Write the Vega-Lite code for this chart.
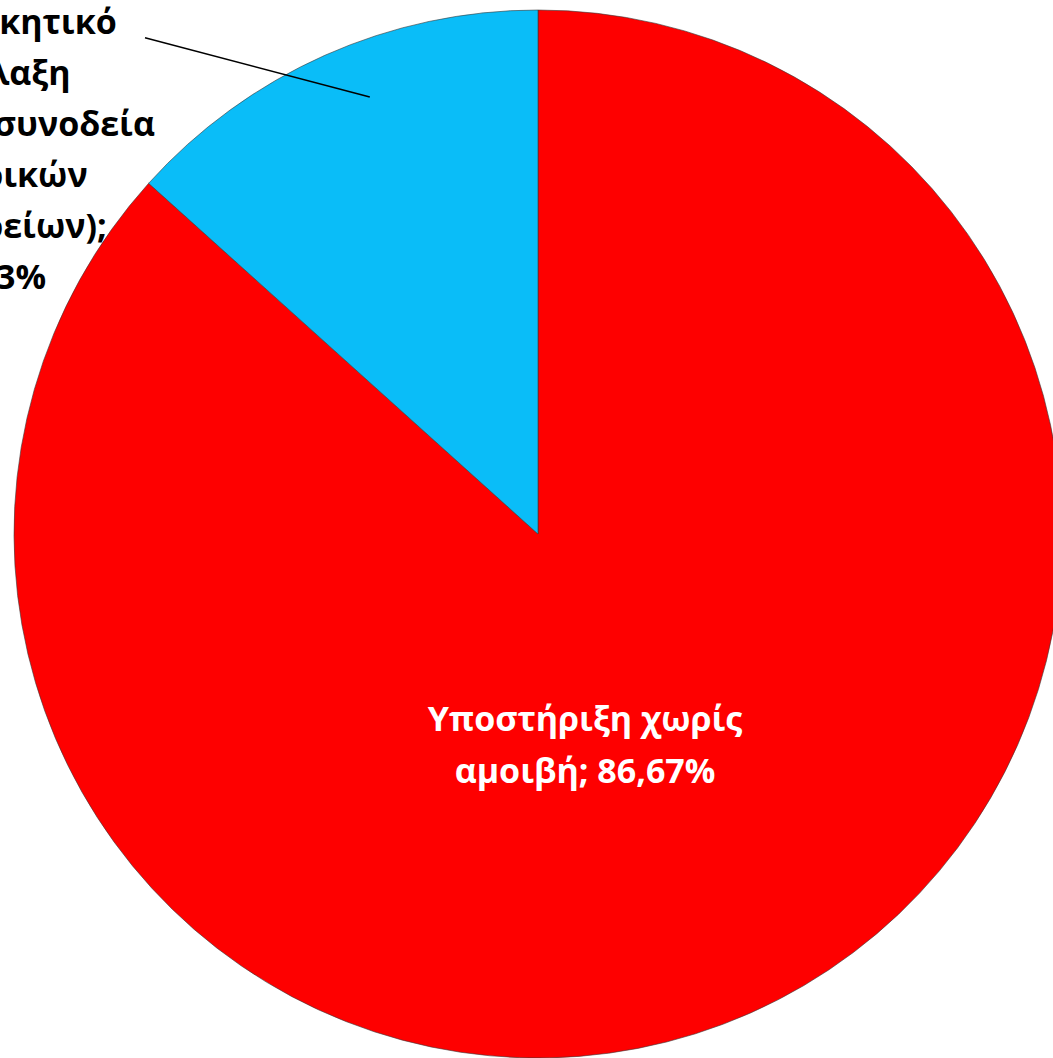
{
  "$schema": "https://vega.github.io/schema/vega-lite/v6.json",
  "width": 1076,
  "height": 1068,
  "autosize": {"type": "none"},
  "padding": 0,
  "background": "white",
  "config": {"view": {"stroke": null}},
  "datasets": {
    "slices": [
      {"cat": "Υποστήριξη χωρίς αμοιβή", "ord": 1, "value": 86.67, "label": ["Υποστήριξη χωρίς", "αμοιβή; 86,67%"]},
      {"cat": "Διοικητικό", "ord": 2, "value": 13.33, "label": ["Διοικητικό", "(φύλαξη", "και συνοδεία", "ιατρικών", "ιατρείων);", "13,33%"]}
    ],
    "leader": [
      {"x": -0.75, "y": 0.947, "x2": -0.321, "y2": 0.834}
    ]
  },
  "layer": [
    {
      "data": {"name": "slices"},
      "mark": {"type": "arc", "outerRadius": 524, "stroke": "#3a3a3a", "strokeWidth": 1, "strokeOpacity": 0.6},
      "encoding": {
        "theta": {"field": "value", "type": "quantitative", "stack": true},
        "order": {"field": "ord", "type": "ordinal"},
        "color": {
          "field": "cat",
          "type": "nominal",
          "scale": {"domain": ["Υποστήριξη χωρίς αμοιβή", "Διοικητικό"], "range": ["#FE0000", "#0ABDF8"]},
          "legend": null
        }
      }
    },
    {
      "data": {"name": "slices"},
      "mark": {"type": "text", "radius": 219, "dx": -42, "dy": -13, "align": "center", "baseline": "middle", "font": "Open Sans", "fontWeight": "bold", "fontSize": 34, "lineHeight": 52, "fill": "white"},
      "encoding": {
        "theta": {"field": "value", "type": "quantitative", "stack": true},
        "order": {"field": "ord", "type": "ordinal"},
        "text": {"condition": {"test": "datum.ord === 1", "field": "label"}, "value": ""}
      }
    },
    {
      "data": {"name": "slices"},
      "mark": {"type": "text", "radius": 600, "dx": -366, "dy": 48, "align": "left", "baseline": "alphabetic", "font": "Open Sans", "fontWeight": "bold", "fontSize": 34, "lineHeight": 51, "fill": "black"},
      "encoding": {
        "theta": {"field": "value", "type": "quantitative", "stack": true},
        "order": {"field": "ord", "type": "ordinal"},
        "text": {"condition": {"test": "datum.ord === 2", "field": "label"}, "value": ""}
      }
    },
    {
      "data": {"name": "leader"},
      "mark": {"type": "rule", "color": "black", "strokeWidth": 1.5},
      "encoding": {
        "x": {"field": "x", "type": "quantitative", "scale": {"domain": [-1.0267, 1.0267], "nice": false, "zero": false}, "axis": null},
        "y": {"field": "y", "type": "quantitative", "scale": {"domain": [-1.0191, 1.0191], "nice": false, "zero": false}, "axis": null},
        "x2": {"field": "x2"},
        "y2": {"field": "y2"}
      }
    }
  ]
}
